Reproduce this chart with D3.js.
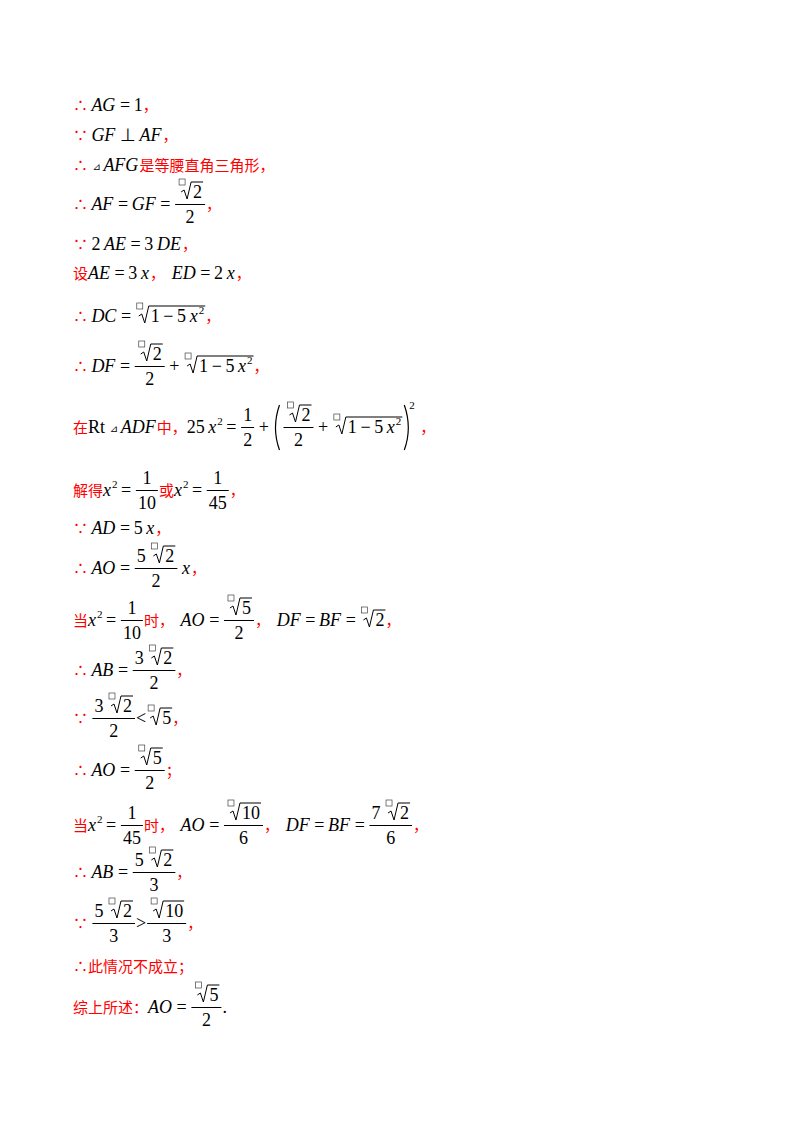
<!DOCTYPE html>
<html><head><meta charset="utf-8">
<script src="https://cdn.jsdelivr.net/npm/d3@7"></script>
<style>body{margin:0;background:#fff}</style></head>
<body><svg id="c" width="800" height="1132"></svg>
<script>
const r=s=>({k:"r",s}), i=s=>({k:"i",s}), n=s=>({k:"n",s}), sp=s=>({k:"sup",s}),
      fr=(a,b)=>({k:"f",a,b}), sq=a=>({k:"q",a}), pa=(a,s)=>({k:"p",a,s}), tri=()=>({k:"t"});
const rad1=()=>sq([n("1 − 5 "),i("x"),sp("2")]);
const r2=()=>sq([n("2")]);
const rowCenters=[106,136,166,205,245,274,317,367,428,491,529,569,621,671,719,771,826,873,924,967,1008];
const rows=[
 [r("∴ "),i("AG"),n(" = 1"),r("，")],
 [r("∵ "),i("GF"),n(" ⊥ "),i("AF"),r("，")],
 [r("∴ "),tri(),i("AFG"),r("是等腰直角三角形，")],
 [r("∴ "),i("AF"),n(" = "),i("GF"),n(" = "),fr([r2()],[n("2")]),r("，")],
 [r("∵ "),n("2 "),i("AE"),n(" = 3 "),i("DE"),r("，")],
 [r("设"),i("AE"),n(" = 3 "),i("x"),r("，  "),i("ED"),n(" = 2 "),i("x"),r("，")],
 [r("∴ "),i("DC"),n(" = "),rad1(),r("，")],
 [r("∴ "),i("DF"),n(" = "),fr([r2()],[n("2")]),n(" + "),rad1(),r("，")],
 [r("在"),n("Rt "),tri(),i("ADF"),r("中，"),n("25 "),i("x"),sp("2"),n(" = "),fr([n("1")],[n("2")]),n(" + "),pa([fr([r2()],[n("2")]),n(" + "),rad1()],"2"),r("，")],
 [r("解得"),i("x"),sp("2"),n(" = "),fr([n("1")],[n("10")]),r("或"),i("x"),sp("2"),n(" = "),fr([n("1")],[n("45")]),r("，")],
 [r("∵ "),i("AD"),n(" = 5 "),i("x"),r("，")],
 [r("∴ "),i("AO"),n(" = "),fr([n("5 "),r2()],[n("2")]),n(" "),i("x"),r("，")],
 [r("当"),i("x"),sp("2"),n(" = "),fr([n("1")],[n("10")]),r("时，  "),i("AO"),n(" = "),fr([sq([n("5")])],[n("2")]),r("，  "),i("DF"),n(" = "),i("BF"),n(" = "),r2(),r("，")],
 [r("∴ "),i("AB"),n(" = "),fr([n("3 "),r2()],[n("2")]),r("，")],
 [r("∵ "),fr([n("3 "),r2()],[n("2")]),n("<"),sq([n("5")]),r("，")],
 [r("∴ "),i("AO"),n(" = "),fr([sq([n("5")])],[n("2")]),r("；")],
 [r("当"),i("x"),sp("2"),n(" = "),fr([n("1")],[n("45")]),r("时，  "),i("AO"),n(" = "),fr([sq([n("10")])],[n("6")]),r("，  "),i("DF"),n(" = "),i("BF"),n(" = "),fr([n("7 "),r2()],[n("6")]),r("，")],
 [r("∴ "),i("AB"),n(" = "),fr([n("5 "),r2()],[n("3")]),r("，")],
 [r("∵ "),fr([n("5 "),r2()],[n("3")]),n(">"),fr([sq([n("10")])],[n("3")]),r("，")],
 [r("∴此情况不成立；")],
 [r("综上所述："),i("AO"),n(" = "),fr([sq([n("5")])],[n("2")]),n(".")]
];
const svg=d3.select("#c");
const styles={
 r:{f:"'Noto Sans CJK SC',sans-serif",s:15,c:"#ff0000",st:"normal"},
 i:{f:"'Liberation Serif',serif",s:18,c:"#000",st:"italic"},
 n:{f:"'Liberation Serif',serif",s:18,c:"#000",st:"normal"},
 sup:{f:"'Liberation Serif',serif",s:11,c:"#000",st:"normal"}
};
const fix=(k,s)=>k==="r"?s:s.replace(/ /g,"\u2009");
const meas=svg.append("text").attr("x",-999).attr("y",-999);
function tw(k,s){const st=styles[k];meas.attr("font-family",st.f).attr("font-size",st.s).attr("font-style",st.st).attr("xml:space","preserve").text(fix(k,s));return meas.node().getComputedTextLength();}
function width(t){
 if(styles[t.k]) return tw(t.k,t.s)+(t.k==="i"?1:0);
 if(t.k==="t") return 12;
 if(t.k==="f") return Math.max(wl(t.a),wl(t.b))+6;
 if(t.k==="q") return 16+wl(t.a)+1;
 if(t.k==="p") return 10+wl(t.a)+10+8;
}
const wl=a=>d3.sum(a,width);
function draw(g,t,x,y){
 const w=width(t);
 if(styles[t.k]){const st=styles[t.k];
  g.append("text").attr("x",x).attr("y",t.k==="sup"?y-8:y).attr("font-family",st.f).attr("font-size",st.s)
   .attr("font-style",st.st).attr("fill",st.c).attr("xml:space","preserve").text(fix(t.k,t.s));}
 else if(t.k==="t"){g.append("text").attr("x",x+1).attr("y",y-1).attr("font-size",10).attr("font-family","'DejaVu Sans'").text("⊿");}
 else if(t.k==="f"){
  const wa=wl(t.a),wb=wl(t.b);
  g.append("line").attr("x1",x+1).attr("x2",x+w-1).attr("y1",y-5.5).attr("y2",y-5.5).attr("stroke","#000").attr("stroke-width",1);
  drawList(g,t.a,x+(w-wa)/2,y-12);drawList(g,t.b,x+(w-wb)/2,y+13);
 } else if(t.k==="q"){
  const top=y-16;
  g.append("rect").attr("x",x+2).attr("y",top-3).attr("width",6).attr("height",6).attr("fill","none").attr("stroke","#444").attr("stroke-width",0.7);
  g.append("path").attr("d",`M${x+4},${y-6} L${x+7},${y-8} L${x+10},${y+1} L${x+14},${top} L${x+w},${top}`).attr("fill","none").attr("stroke","#000").attr("stroke-width",1);
  drawList(g,t.a,x+16,y);
 } else if(t.k==="p"){
  g.append("path").attr("d",`M${x+7},${y-28} Q${x-1},${y-5} ${x+7},${y+17}`).attr("fill","none").attr("stroke","#000").attr("stroke-width",1.2);
  const wa=wl(t.a);drawList(g,t.a,x+10,y);
  const xe=x+10+wa+2;
  g.append("path").attr("d",`M${xe},${y-28} Q${xe+8},${y-5} ${xe},${y+17}`).attr("fill","none").attr("stroke","#000").attr("stroke-width",1.2);
  g.append("text").attr("x",xe+5).attr("y",y-24).attr("font-family",styles.sup.f).attr("font-size",11).text(t.s);
 }
 return x+w;
}
function drawList(g,a,x,y){a.forEach(t=>{x=draw(g,t,x,y);});return x;}
rows.forEach((row,k)=>{drawList(svg.append("g"),row,73,rowCenters[k]+5);});
meas.remove();
</script></body></html>
